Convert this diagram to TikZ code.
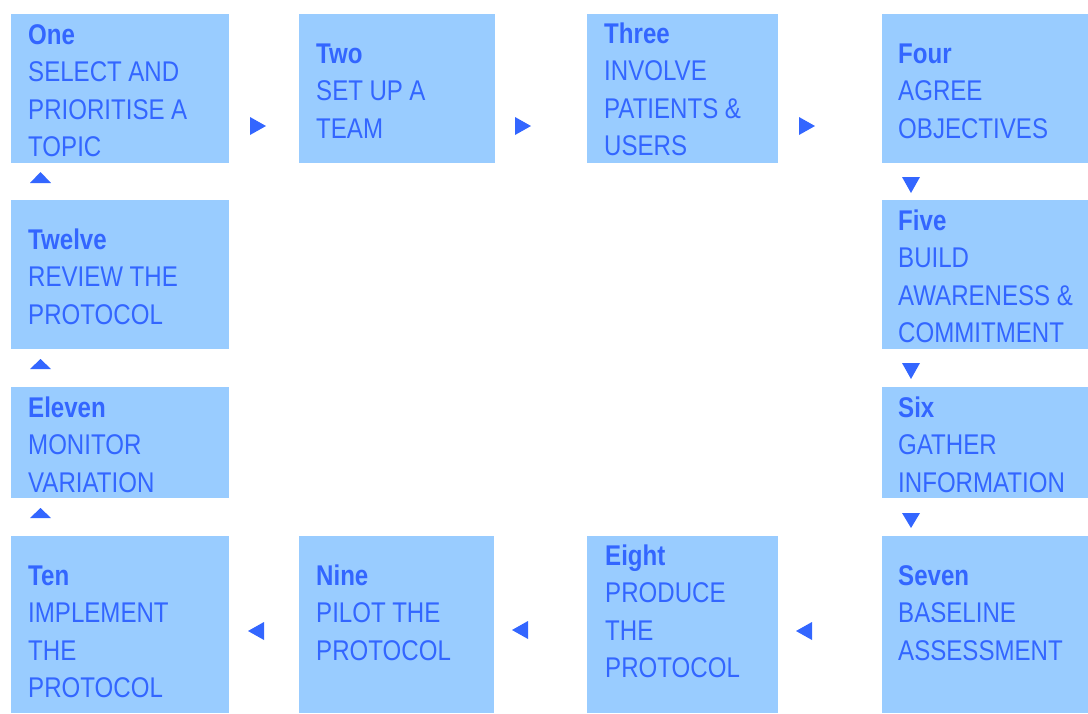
\documentclass[tikz,border=0pt]{standalone}
\usepackage{fontspec}
\setmainfont{Liberation Sans}[FakeStretch=0.845]
\definecolor{boxblue}{HTML}{99CCFF}
\definecolor{txtblue}{HTML}{3366FF}
\newcommand\lblfnt{\fontsize{28.5}{37.5}\selectfont}
\newcommand\lblspace{\spaceskip=6.5pt plus 2pt minus 1pt\relax}
\begin{document}
\begin{tikzpicture}[x=1pt,y=-1pt,
  box/.style={fill=boxblue,draw=none,inner sep=0pt,anchor=north west,minimum width=#1},
  lbl/.style={anchor=base west,inner sep=0pt,text width=200pt,align=left,text=txtblue,
    font=\lblfnt, execute at begin node=\lblspace},
  tri/.style={fill=txtblue}]
\useasboundingbox (0,0) rectangle (1088,713);
% boxes
\node[box=218pt,minimum height=149pt] (one)    at (11,14)  {};
\node[box=196pt,minimum height=149pt] (two)    at (299,14) {};
\node[box=191pt,minimum height=149pt] (three)  at (587,14) {};
\node[box=206pt,minimum height=149pt] (four)   at (882,14) {};
\node[box=206pt,minimum height=149pt] (five)   at (882,200) {};
\node[box=206pt,minimum height=111pt] (six)    at (882,387) {};
\node[box=206pt,minimum height=177pt] (seven)  at (882,536) {};
\node[box=191pt,minimum height=177pt] (eight)  at (587,536) {};
\node[box=195pt,minimum height=177pt] (nine)   at (299,536) {};
\node[box=218pt,minimum height=177pt] (ten)    at (11,536) {};
\node[box=218pt,minimum height=111pt] (eleven) at (11,387) {};
\node[box=218pt,minimum height=149pt] (twelve) at (11,200) {};
% texts
\node[lbl] (oneT)    at (28,44)   {\textbf{One}\\SELECT AND\\PRIORITISE A\\TOPIC};
\node[lbl] (twoT)    at (316,63)  {\textbf{Two}\\SET UP A\\TEAM};
\node[lbl] (threeT)  at (604,43)  {\textbf{Three}\\INVOLVE\\PATIENTS \&\\USERS};
\node[lbl] (fourT)   at (898,63)  {\textbf{Four}\\AGREE\\OBJECTIVES};
\node[lbl] (fiveT)   at (898,230) {\textbf{Five}\\BUILD\\AWARENESS \&\\COMMITMENT};
\node[lbl] (sixT)    at (898,417) {\textbf{Six}\\GATHER\\INFORMATION};
\node[lbl] (sevenT)  at (898,585) {\textbf{Seven}\\BASELINE\\ASSESSMENT};
\node[lbl] (eightT)  at (605,565) {\textbf{Eight}\\PRODUCE\\THE\\PROTOCOL};
\node[lbl] (nineT)   at (316,585) {\textbf{Nine}\\PILOT THE\\PROTOCOL};
\node[lbl] (tenT)    at (28,585)  {\textbf{Ten}\\IMPLEMENT\\THE\\PROTOCOL};
\node[lbl] (elevenT) at (28,417)  {\textbf{Eleven}\\MONITOR\\VARIATION};
\node[lbl] (twelveT) at (28,249)  {\textbf{Twelve}\\REVIEW THE\\PROTOCOL};
% arrow heads: right
\fill[tri] (250,117) -- (266,126) -- (250,135) -- cycle;
\fill[tri] (515,117) -- (531,126) -- (515,135) -- cycle;
\fill[tri] (799,117) -- (815,126) -- (799,135) -- cycle;
% down
\fill[tri] (902,177) -- (920,177) -- (911,193) -- cycle;
\fill[tri] (902,363) -- (920,363) -- (911,379) -- cycle;
\fill[tri] (902,513) -- (920,513) -- (911,528) -- cycle;
% left
\fill[tri] (812,622) -- (796,631) -- (812,640) -- cycle;
\fill[tri] (528,621) -- (512,630) -- (528,639) -- cycle;
\fill[tri] (264,622) -- (248,631) -- (264,640) -- cycle;
% up
\fill[tri] (30,183) -- (51,183) -- (40.5,172) -- cycle;
\fill[tri] (30,369) -- (51,369) -- (40.5,359) -- cycle;
\fill[tri] (30,518) -- (51,518) -- (40.5,508) -- cycle;
\end{tikzpicture}
\end{document}
